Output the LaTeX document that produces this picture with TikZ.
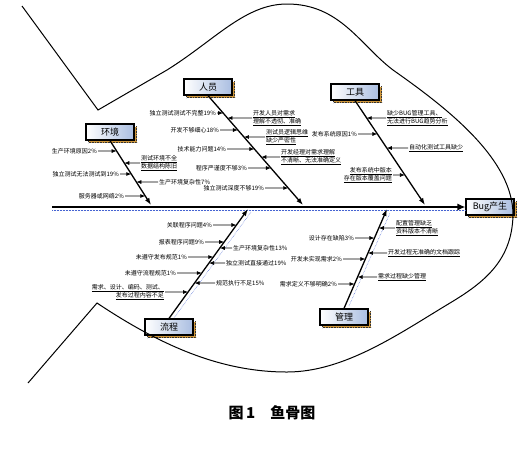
\documentclass[tikz,border=0pt]{standalone}
\usepackage{fontspec}
\setmainfont{Noto Sans CJK SC}
\usetikzlibrary{arrows.meta,shadows}
\definecolor{boxblue}{RGB}{170,190,225}
\definecolor{shadowbrown}{RGB}{205,150,60}
\definecolor{selblue}{RGB}{70,100,210}
\tikzstyle{catbox}=[rectangle,draw=black,line width=1.2pt,left color=white,right color=boxblue,minimum width=48pt,minimum height=16pt,inner sep=1pt,font=\fontsize{9}{10}\selectfont,general shadow={fill=shadowbrown,draw=black!80,densely dotted,line width=.6pt,shadow xshift=2.5pt,shadow yshift=-2.5pt}]
\tikzstyle{spine}=[-{Latex[length=8pt,width=7pt]},line width=1.3pt]
\tikzstyle{bone}=[-{Latex[length=7pt,width=5pt]},line width=1.3pt]
\tikzstyle{cause}=[-{Latex[length=5pt,width=4pt]},line width=.7pt]
\tikzstyle{lbl}=[inner sep=1pt,font=\fontsize{6}{8.5}\selectfont]
\tikzstyle{lbll}=[lbl,anchor=east,align=right]
\tikzstyle{lblr}=[lbl,anchor=west,align=left]
\tikzstyle{selline}=[selblue,densely dotted,line width=.5pt]

\begin{document}
\begin{tikzpicture}[x=1pt,y=-1pt]
\useasboundingbox (0,0) rectangle (527,451);
% category boxes
\node[catbox] (bug) at (490,207) {Bug产生};
\node[catbox] (hj) at (110,132) {环境};
\node[catbox] (ry) at (208,87) {人员};
\node[catbox] (gj) at (355,92) {工具};
\node[catbox] (lc) at (169,327) {流程};
\node[catbox] (gl) at (344,317) {管理};
% spine and bones
\coordinate (tail) at (52,207);
\coordinate (hje) at (151,205);
\coordinate (rye) at (303,205);
\coordinate (gje) at (425,205);
\coordinate (lce) at (248,209);
\coordinate (gle) at (387,209);
\draw[selline] (52,210) -- (466,210);
\draw[selline] (174,318) -- (251,212);
\draw[selline] (349,306) -- (390,213);
\draw[spine] (tail) -- (bug);
\draw[bone] (hj.south) -- (hje);
\draw[bone] (ry.south) -- (rye);
\draw[bone] (gj.south) -- (gje);
\draw[bone] (lc.north) -- (lce);
\draw[bone] (gl.north) -- (gle);

% 环境
\node[lbll] (h1) at (98,151) {生产环境原因2\%};
\node[lblr] (h2) at (140,163) {\underline{测试环境不全}\\\underline{数据结构陈旧}};
\node[lbll] (h3) at (120,174) {独立测试无法测试到19\%};
\node[lblr] (h4) at (158,182) {生产环境复杂性7\%};
\node[lbll] (h5) at (125,196) {服务器或网络2\%};
\coordinate (h1e) at (intersection of hj.south--hje and 0,151--1,151);
\coordinate (h2e) at (intersection of hj.south--hje and 0,163--1,163);
\coordinate (h3e) at (intersection of hj.south--hje and 0,174--1,174);
\coordinate (h4e) at (intersection of hj.south--hje and 0,182--1,182);
\coordinate (h5e) at (intersection of hj.south--hje and 0,196--1,196);
\draw[cause] (h1) -- (h1e);
\draw[cause] (h2) -- (h2e);
\draw[cause] (h3) -- (h3e);
\draw[cause] (h4) -- (h4e);
\draw[cause] (h5) -- (h5e);

% 人员
\node[lbll] (r1) at (217,113) {独立测试测试不完整19\%};
\node[lblr] (r2) at (252,118) {\underline{开发人员对需求}\\\underline{理解不透彻、准确}};
\node[lbll] (r3) at (220,130) {开发不够细心18\%};
\node[lblr] (r4) at (265,137) {\underline{测试员逻辑思维}\\\underline{缺少严密性}};
\node[lbll] (r5) at (227,149) {技术能力问题14\%};
\node[lblr] (r6) at (280,157) {\underline{开发经理对需求理解}\\\underline{不清晰、无法准确定义}};
\node[lbll] (r7) at (248,168) {程序严谨度不够3\%};
\node[lbll] (r8) at (265,188) {独立测试深度不够19\%};
\coordinate (r1e) at (intersection of ry.south--rye and 0,113--1,113);
\coordinate (r2e) at (intersection of ry.south--rye and 0,118--1,118);
\coordinate (r3e) at (intersection of ry.south--rye and 0,130--1,130);
\coordinate (r4e) at (intersection of ry.south--rye and 0,137--1,137);
\coordinate (r5e) at (intersection of ry.south--rye and 0,149--1,149);
\coordinate (r6e) at (intersection of ry.south--rye and 0,157--1,157);
\coordinate (r7e) at (intersection of ry.south--rye and 0,168--1,168);
\coordinate (r8e) at (intersection of ry.south--rye and 0,188--1,188);
\draw[cause] (r1) -- (r1e);
\draw[cause] (r2) -- (r2e);
\draw[cause] (r3) -- (r3e);
\draw[cause] (r4) -- (r4e);
\draw[cause] (r5) -- (r5e);
\draw[cause] (r6) -- (r6e);
\draw[cause] (r7) -- (r7e);
\draw[cause] (r8) -- (r8e);

% 工具
\node[lblr] (g1) at (386,118) {\underline{缺少BUG管理工具、}\\\underline{无法进行BUG趋势分析}};
\node[lbll] (g2) at (358,134) {发布系统原因1\%};
\node[lblr] (g3) at (408,148) {\underline{自动化测试工具缺少}};
\node[lbll] (g4) at (393,175) {\underline{发布系统中版本}\\\underline{存在版本覆盖问题}};
\coordinate (g1e) at (intersection of gj.south--gje and 0,118--1,118);
\coordinate (g2e) at (intersection of gj.south--gje and 0,134--1,134);
\coordinate (g3e) at (intersection of gj.south--gje and 0,148--1,148);
\coordinate (g4e) at (intersection of gj.south--gje and 0,175--1,175);
\draw[cause] (g1) -- (g1e);
\draw[cause] (g2) -- (g2e);
\draw[cause] (g3) -- (g3e);
\draw[cause] (g4) -- (g4e);

% 流程
\node[lbll] (c1) at (213,225) {关联程序问题4\%};
\node[lbll] (c2) at (205,242) {报表程序问题9\%};
\node[lblr] (c3) at (232,248) {生产环境复杂性13\%};
\node[lbll] (c4) at (188,257) {未遵守发布规范1\%};
\node[lblr] (c5) at (225,263) {独立测试直接通过19\%};
\node[lbll] (c6) at (177,273) {未遵守流程规范1\%};
\node[lblr] (c7) at (215,283) {规范执行不足15\%};
\node[lbll] (c8) at (165,292) {\underline{需求、设计、编码、测试、}\\\underline{发布过程内容不足}};
\coordinate (c1e) at (intersection of lc.north--lce and 0,225--1,225);
\coordinate (c2e) at (intersection of lc.north--lce and 0,242--1,242);
\coordinate (c3e) at (intersection of lc.north--lce and 0,248--1,248);
\coordinate (c4e) at (intersection of lc.north--lce and 0,257--1,257);
\coordinate (c5e) at (intersection of lc.north--lce and 0,263--1,263);
\coordinate (c6e) at (intersection of lc.north--lce and 0,273--1,273);
\coordinate (c7e) at (intersection of lc.north--lce and 0,283--1,283);
\coordinate (c8e) at (intersection of lc.north--lce and 0,292--1,292);
\draw[cause] (c1) -- (c1e);
\draw[cause] (c2) -- (c2e);
\draw[cause] (c3) -- (c3e);
\draw[cause] (c4) -- (c4e);
\draw[cause] (c5) -- (c5e);
\draw[cause] (c6) -- (c6e);
\draw[cause] (c7) -- (c7e);
\draw[cause] (c8) -- (c8e);

% 管理
\node[lblr] (m1) at (395,228) {\underline{配置管理缺乏}\\\underline{资料版本不清晰}};
\node[lbll] (m2) at (355,238) {设计存在缺陷3\%};
\node[lblr] (m3) at (387,253) {\underline{开发过程无准确的文档跟踪}};
\node[lbll] (m4) at (343,259) {开发未实现需求2\%};
\node[lblr] (m5) at (377,277) {\underline{需求过程缺少管理}};
\node[lbll] (m6) at (338,284) {需求定义不够明确2\%};
\coordinate (m1e) at (intersection of gl.north--gle and 0,228--1,228);
\coordinate (m2e) at (intersection of gl.north--gle and 0,238--1,238);
\coordinate (m3e) at (intersection of gl.north--gle and 0,253--1,253);
\coordinate (m4e) at (intersection of gl.north--gle and 0,259--1,259);
\coordinate (m5e) at (intersection of gl.north--gle and 0,277--1,277);
\coordinate (m6e) at (intersection of gl.north--gle and 0,284--1,284);
\draw[cause] (m1) -- (m1e);
\draw[cause] (m2) -- (m2e);
\draw[cause] (m3) -- (m3e);
\draw[cause] (m4) -- (m4e);
\draw[cause] (m5) -- (m5e);
\draw[cause] (m6) -- (m6e);

% fish outline
\draw[line width=1pt] (22,6) -- (98,110) -- (167,70) .. controls (215,40) and (245,4) .. (287,4)
  .. controls (340,4) and (360,45) .. (393,70) .. controls (450,110) and (513,160) .. (513,215)
  .. controls (512,260) and (485,282) .. (450,303) .. controls (400,333) and (345,372) .. (287,372)
  .. controls (220,372) and (160,345) .. (97,303) -- (28,383);

\node[font=\fontsize{15}{16}\selectfont\bfseries] (cap) at (272,413) {图\,1\quad 鱼骨图};
\end{tikzpicture}
\end{document}
